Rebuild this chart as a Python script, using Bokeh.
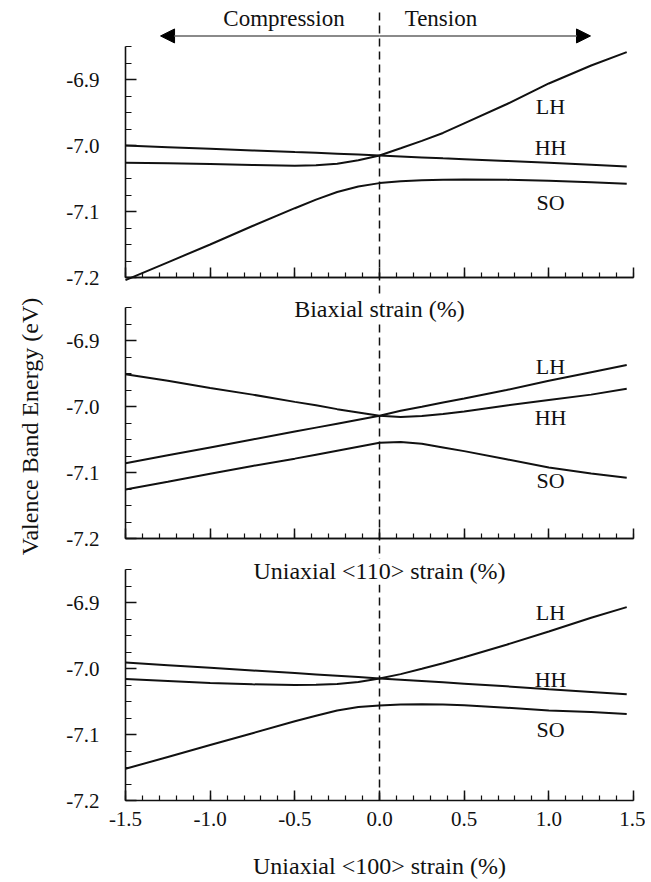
from math import pi
from bokeh.plotting import figure
from bokeh.models import (Range1d, FixedTicker, PrintfTickFormatter, Label, Arrow,
                          NormalHead, LinearAxis)
from bokeh.embed import file_html
from bokeh.resources import INLINE

# ---------------- data ----------------
strain = [-1.5, -1.25, -1.0, -0.75, -0.5, -0.375, -0.25, -0.125, 0.0,
          0.125, 0.25, 0.375, 0.5, 0.75, 1.0, 1.25, 1.46]

# Biaxial strain
biax_hh = [-7.000, -7.0025, -7.005, -7.0074, -7.0099, -7.0111, -7.0124, -7.0138, -7.0152,
           -7.0166, -7.018, -7.0194, -7.0207, -7.0234, -7.0262, -7.029, -7.0318]
biax_lh = [-7.026, -7.027, -7.028, -7.0295, -7.0305, -7.0300, -7.0275, -7.0225, -7.0152,
           -7.0042, -6.993, -6.981, -6.9665, -6.9375, -6.906, -6.8788, -6.8586]
biax_so = [-7.204, -7.177, -7.150, -7.122, -7.095, -7.082, -7.0705, -7.062, -7.057,
           -7.054, -7.0525, -7.0518, -7.0515, -7.052, -7.0535, -7.0555, -7.058]

# Uniaxial <110> strain
u110_lh = [-7.086, -7.074, -7.062, -7.050, -7.038, -7.032, -7.026, -7.020, -7.014,
           -7.0065, -7.0005, -6.994, -6.988, -6.975, -6.961, -6.948, -6.937]
u110_hh = [-6.951, -6.961, -6.972, -6.982, -6.993, -6.998, -7.004, -7.009, -7.014,
           -7.016, -7.0145, -7.0115, -7.0075, -6.9985, -6.990, -6.982, -6.973]
u110_so = [-7.1256, -7.114, -7.102, -7.090, -7.079, -7.073, -7.067, -7.061, -7.055,
           -7.0538, -7.0565, -7.062, -7.0676, -7.080, -7.0925, -7.1015, -7.108]

# Uniaxial <100> strain
u100_hh = [-6.991, -6.995, -6.999, -7.003, -7.007, -7.009, -7.011, -7.013, -7.015,
           -7.017, -7.019, -7.021, -7.023, -7.027, -7.0315, -7.0355, -7.039]
u100_lh = [-7.016, -7.019, -7.022, -7.024, -7.025, -7.0248, -7.0235, -7.0205, -7.015,
           -7.0085, -7.0005, -6.992, -6.983, -6.964, -6.944, -6.923, -6.907]
u100_so = [-7.152, -7.134, -7.116, -7.098, -7.080, -7.0715, -7.0635, -7.0585, -7.056,
           -7.0545, -7.054, -7.0545, -7.0555, -7.0595, -7.0635, -7.066, -7.069]

x_ticks = [-1.5, -1.0, -0.5, 0.0, 0.5, 1.0, 1.5]
x_minor = [round(-1.5 + 0.1 * i, 2) for i in range(31)]
y_ticks = [-7.2, -7.1, -7.0, -6.9]
y_minor = [round(-7.2 + 0.025 * i, 3) for i in range(15)]
x_min, x_max = -1.5, 1.5
y_min, y_max = -7.2, -6.85

band_names = ["LH", "HH", "SO"]
panel_titles = ["Biaxial strain (%)", "Uniaxial <110> strain (%)", "Uniaxial <100> strain (%)"]
y_title = "Valence Band Energy (eV)"
top_left_text = "Compression"
top_right_text = "Tension"

# ---------------- styling / layout ----------------
FONT = "Liberation Serif"
INK = "#111111"
CANVAS_W, CANVAS_H = 645, 880
PANEL_LEFT_PX, PANEL_W_PX = 125, 508
PX_PER_X = PANEL_W_PX / (x_max - x_min)
PX_PER_EV = 660.0
AXIS_PX = {"p1": 277, "p2": 538, "default": 800}   # pixel row of each panel's x axis

x_lo = x_min - PANEL_LEFT_PX / PX_PER_X
x_hi = x_lo + CANVAS_W / PX_PER_X


def panel_range(axis_px):
    bottom = y_min - (CANVAS_H - axis_px) / PX_PER_EV
    return Range1d(bottom, bottom + CANVAS_H / PX_PER_EV)


p = figure(frame_width=CANVAS_W, frame_height=CANVAS_H,
           x_range=Range1d(x_lo, x_hi), y_range=panel_range(AXIS_PX["default"]),
           output_backend="svg", toolbar_location=None,
           min_border_left=0, min_border_right=0, min_border_top=0, min_border_bottom=0,
           outline_line_color=None, background_fill_color="white",
           border_fill_color="white")
p.extra_y_ranges = {"p1": panel_range(AXIS_PX["p1"]), "p2": panel_range(AXIS_PX["p2"])}
p.grid.visible = False


def style_common(ax):
    ax.axis_line_width = 1.6
    ax.major_tick_line_width = 1.5
    ax.minor_tick_line_width = 1.2
    ax.axis_line_color = INK
    ax.major_tick_line_color = INK
    ax.minor_tick_line_color = INK
    ax.major_tick_out = 0
    ax.minor_tick_out = 0


def style_y(ax):
    ax.fixed_location = x_min
    ax.ticker = FixedTicker(ticks=y_ticks, minor_ticks=y_minor)
    ax.formatter = PrintfTickFormatter(format="%.1f")
    ax.bounds = (y_min, y_max)
    style_common(ax)
    ax.major_tick_in = 11
    ax.minor_tick_in = 6
    ax.major_label_text_font = FONT
    ax.major_label_text_font_size = "21px"
    ax.major_label_text_color = INK
    ax.major_label_standoff = 26


def style_x(ax):
    ax.fixed_location = y_min
    ax.bounds = (x_min, x_max)
    style_common(ax)
    ax.major_tick_in = 10
    ax.minor_tick_in = 5


# bottom panel (default range) axes with labels
xa = p.xaxis[0]
style_x(xa)
xa.ticker = FixedTicker(ticks=x_ticks, minor_ticks=x_minor)
xa.formatter = PrintfTickFormatter(format="%.1f")
xa.major_label_text_font = FONT
xa.major_label_text_font_size = "21px"
xa.major_label_text_color = INK
xa.major_label_standoff = 11
style_y(p.yaxis[0])

# upper panels: axes pinned at their own -7.2 / -1.5
for name in ("p1", "p2"):
    yax = LinearAxis(y_range_name=name)
    style_y(yax)
    p.add_layout(yax, "left")
    # x axis: minor ticks (short) and major ticks (tall), no tick labels
    xm = LinearAxis(y_range_name=name, ticker=FixedTicker(ticks=[], minor_ticks=x_minor))
    style_x(xm)
    p.add_layout(xm, "below")
    xM = LinearAxis(y_range_name=name, ticker=FixedTicker(ticks=[], minor_ticks=x_ticks))
    style_x(xM)
    xM.minor_tick_in = 10
    xM.minor_tick_line_width = 1.5
    p.add_layout(xM, "below")

# zero-strain dashed reference line through all panels
p.segment(x0=[0.0], y0=[y_min], x1=[0.0], y1=[y_min + (AXIS_PX["default"] - 8) / PX_PER_EV],
          line_color=INK, line_width=1.5, line_dash="8 5")

# curves
for rng, series in (("p1", [biax_hh, biax_lh, biax_so]),
                    ("p2", [u110_lh, u110_hh, u110_so]),
                    ("default", [u100_hh, u100_lh, u100_so])):
    for ys in series:
        p.line(strain, ys, line_color=INK, line_width=2, y_range_name=rng)


def text(x, y, s, rng, size, bg=None, angle=0.0):
    lab = Label(x=x, y=y, text=s, y_range_name=rng, text_align="center",
                text_baseline="middle", text_font=FONT, text_font_size=size,
                text_color=INK, angle=angle)
    if bg:
        lab.background_fill_color = bg
    p.add_layout(lab)


for rng, ys in (("p1", [-6.941, -7.003, -7.086]),
                ("p2", [-6.939, -7.016, -7.1115]),
                ("default", [-6.915, -7.016, -7.092])):
    for name, yy in zip(band_names, ys):
        text(1.01, yy, name, rng, "22px")

# compression / tension annotation
ya_arrow = -6.834
for x_end in (-1.293, 1.246):
    p.add_layout(Arrow(end=NormalHead(size=14, fill_color="black", line_color="black"),
                       x_start=0.0, y_start=ya_arrow, x_end=x_end, y_end=ya_arrow,
                       y_range_name="p1", line_color="#8a8a8a", line_width=2))
text(-0.564, -6.8083, top_left_text, "p1", "23px")
text(0.363, -6.8083, top_right_text, "p1", "23px")

# x-axis titles
text(0.0, -6.853, panel_titles[0], "p2", "24px", bg="white")
text(0.0, -6.853, panel_titles[1], "default", "24px", bg="white")
text(0.0, -7.2985, panel_titles[2], "default", "24px")

# shared y-axis title
text(-2.064, -7.0303, y_title, "p2", "24px", angle=pi / 2)

open("out.html", "w").write(file_html(p, INLINE))
